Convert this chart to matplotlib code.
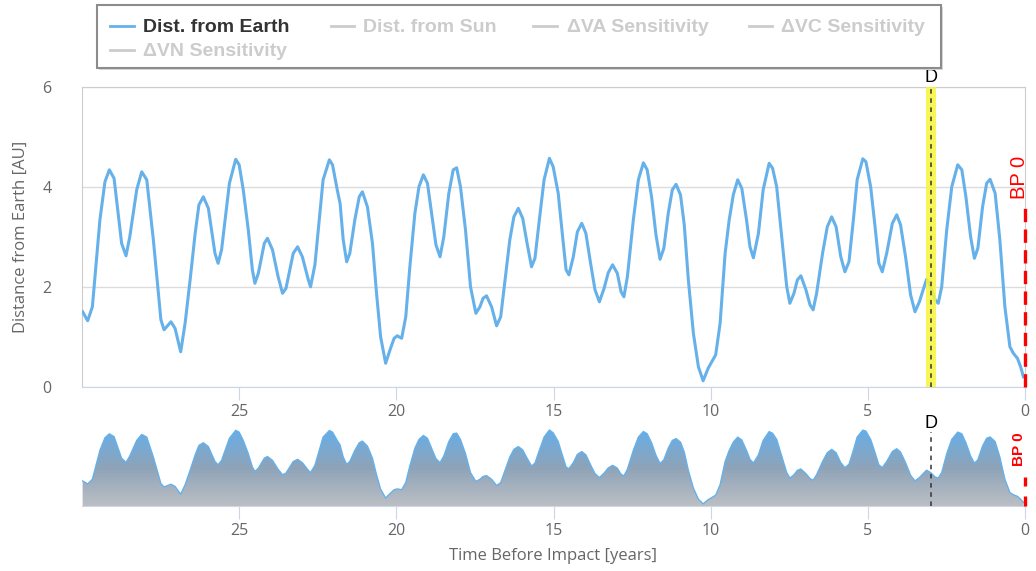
import numpy as np
import matplotlib
matplotlib.use("Agg")
import matplotlib.pyplot as plt
from matplotlib.colors import LinearSegmentedColormap
from matplotlib.lines import Line2D
from matplotlib.patches import Rectangle

# time before impact [years] and distance from Earth [AU]
years = [29.98, 29.82, 29.67, 29.43, 29.27, 29.13, 28.98, 28.74, 28.60, 28.48,
         28.26, 28.10, 27.94, 27.73, 27.49, 27.39, 27.17, 27.04, 26.86, 26.72,
         26.56, 26.40, 26.28, 26.14, 25.98, 25.77, 25.67, 25.56, 25.31, 25.11,
         25.00, 24.87, 24.71, 24.58, 24.50, 24.39, 24.20, 24.10, 23.94, 23.76,
         23.62, 23.51, 23.28, 23.14, 22.99, 22.80, 22.73, 22.59, 22.33, 22.13,
         22.03, 21.88, 21.79, 21.69, 21.58, 21.48, 21.32, 21.18, 21.08, 20.92,
         20.76, 20.63, 20.50, 20.34, 20.20, 20.07, 19.97, 19.83, 19.70, 19.57,
         19.41, 19.28, 19.14, 19.01, 18.88, 18.74, 18.61, 18.49, 18.33, 18.19,
         18.08, 17.96, 17.80, 17.64, 17.47, 17.34, 17.24, 17.13, 16.97, 16.81,
         16.68, 16.54, 16.39, 16.26, 16.12, 15.98, 15.84, 15.70, 15.59, 15.45,
         15.30, 15.13, 15.01, 14.85, 14.71, 14.60, 14.51, 14.37, 14.24, 14.10,
         13.97, 13.82, 13.68, 13.54, 13.39, 13.26, 13.12, 12.97, 12.85, 12.76,
         12.65, 12.46, 12.30, 12.14, 12.02, 11.88, 11.74, 11.61, 11.49, 11.35,
         11.22, 11.10, 10.96, 10.84, 10.71, 10.55, 10.39, 10.24, 10.08, 9.84,
         9.70, 9.54, 9.41, 9.28, 9.14, 9.01, 8.86, 8.75, 8.64, 8.48,
         8.33, 8.14, 8.03, 7.90, 7.74, 7.58, 7.48, 7.35, 7.24, 7.13,
         6.97, 6.84, 6.74, 6.63, 6.44, 6.29, 6.15, 6.01, 5.86, 5.73,
         5.60, 5.46, 5.34, 5.16, 5.06, 4.91, 4.77, 4.65, 4.54, 4.40,
         4.22, 4.08, 3.96, 3.80, 3.64, 3.50, 3.36, 3.24, 3.13, 3.00,
         2.86, 2.76, 2.65, 2.49, 2.33, 2.14, 2.01, 1.88, 1.73, 1.61,
         1.50, 1.35, 1.22, 1.11, 0.95, 0.80, 0.64, 0.48, 0.37, 0.24,
         0.14, 0.05]
dist_earth = [1.51, 1.33, 1.61, 3.35, 4.11, 4.35, 4.18, 2.88, 2.63, 3.01,
              3.95, 4.31, 4.15, 2.95, 1.35, 1.15, 1.31, 1.18, 0.71, 1.28,
              2.15, 3.08, 3.65, 3.81, 3.58, 2.68, 2.48, 2.75, 4.08, 4.56,
              4.45, 3.95, 3.15, 2.35, 2.08, 2.28, 2.88, 2.98, 2.75, 2.21,
              1.88, 1.98, 2.68, 2.81, 2.61, 2.15, 2.01, 2.45, 4.15, 4.55,
              4.45, 3.95, 3.68, 2.95, 2.51, 2.68, 3.35, 3.81, 3.91, 3.61,
              2.88, 1.88, 1.01, 0.48, 0.75, 0.98, 1.03, 0.98, 1.41, 2.41,
              3.48, 4.01, 4.25, 4.08, 3.48, 2.85, 2.61, 3.01, 3.88, 4.35,
              4.39, 4.01, 3.15, 2.01, 1.48, 1.61, 1.78, 1.83, 1.61, 1.23,
              1.41, 2.15, 2.95, 3.41, 3.58, 3.38, 2.88, 2.41, 2.58, 3.35,
              4.15, 4.58, 4.41, 3.88, 3.01, 2.35, 2.25, 2.61, 3.11, 3.28,
              3.08, 2.48, 1.95, 1.71, 1.98, 2.29, 2.45, 2.28, 1.91, 1.81,
              2.21, 3.35, 4.15, 4.49, 4.35, 3.81, 3.05, 2.56, 2.78, 3.48,
              3.95, 4.06, 3.85, 3.25, 2.15, 1.08, 0.41, 0.13, 0.38, 0.65,
              1.28, 2.68, 3.35, 3.85, 4.15, 3.98, 3.35, 2.81, 2.59, 3.08,
              3.95, 4.48, 4.38, 4.01, 3.01, 2.01, 1.68, 1.88, 2.15, 2.23,
              1.95, 1.65, 1.55, 1.88, 2.68, 3.21, 3.41, 3.21, 2.61, 2.31,
              2.51, 3.35, 4.15, 4.57, 4.51, 4.01, 3.21, 2.48, 2.31, 2.68,
              3.28, 3.45, 3.25, 2.61, 1.85, 1.51, 1.71, 1.95, 2.16, 2.01,
              1.75, 1.68, 2.01, 3.15, 4.01, 4.45, 4.35, 3.81, 3.01, 2.58,
              2.78, 3.61, 4.08, 4.16, 3.88, 2.95, 1.61, 0.81, 0.68, 0.58,
              0.41, 0.21]

x_ticks = [25, 20, 15, 10, 5, 0]
y_ticks = [0, 2, 4, 6]
d_time = 3.0
d_band = (3.16, 2.84)
bp_time = 0.0
legend_names = ["Dist. from Earth", "Dist. from Sun", "\u0394VA Sensitivity",
                "\u0394VC Sensitivity", "\u0394VN Sensitivity"]

W, H = 1036, 571
line_col = "#66b1ea"
label_col = "#666666"
tick_font = ["Open Sans", "DejaVu Sans"]
leg_font = ["Liberation Sans", "DejaVu Sans"]


def fx(px):
    return px / W


def fy(py):
    return 1 - py / H


fig = plt.figure(figsize=(W / 100, H / 100), dpi=100)

# ---- main chart ----
ax = fig.add_axes([fx(82), fy(387.3), fx(1025) - fx(82), fy(87.3) - fy(387.3)])
ax.plot(years, dist_earth, color=line_col, lw=2.2, zorder=3, solid_joinstyle="round")
ax.axvspan(d_band[0], d_band[1], color="#f7f53a", alpha=0.85, lw=0, zorder=4)
ax.axvline(d_time, color="#333333", lw=1.1, ls=(0, (3, 3)), zorder=5)
ax.text(d_time, 6.02, "D", ha="center", va="bottom", fontsize=13,
        family=leg_font, color="black")
ax.plot([bp_time, bp_time], [0, 3.6], color="#ff0000", lw=2.4, ls=(0, (4, 2.2)),
        zorder=6, clip_on=False)
ax.text(0.17, 4.2, "BP 0", rotation=90, ha="center", va="center", color="#ff0000",
        fontsize=14.5, family=leg_font)
ax.set_xlim(30, 0)
ax.set_ylim(0, 6)
ax.set_yticks(y_ticks)
ax.set_xticks(x_ticks)
ax.grid(axis="y", color="#dcdcdc", lw=1)
ax.set_axisbelow(True)
for s in ["top", "left", "right"]:
    ax.spines[s].set_color("#cccccc")
ax.spines["bottom"].set_color("#ccd6eb")
ax.tick_params(axis="y", length=0, pad=22, labelsize=11.5, labelcolor=label_col)
ax.tick_params(axis="x", length=9, color="#ccd6eb", pad=3, labelsize=11.5,
               labelcolor=label_col)
for lab in ax.get_xticklabels() + ax.get_yticklabels():
    lab.set_family(tick_font)
ax.set_ylabel("Distance from Earth [AU]", fontsize=12, color=label_col,
              family=tick_font, labelpad=10)

# ---- navigator ----
nav = fig.add_axes([fx(82), fy(506), fx(1025) - fx(82), fy(425) - fy(506)])
ymax = 4.88
poly = nav.fill_between(years, dist_earth, 0, color="none", lw=0)
cmap = LinearSegmentedColormap.from_list("nav", ["#bcbfc4", "#8ea3b8", "#66aee8"])
grad = np.linspace(0, 1, 256).reshape(-1, 1)
img = nav.imshow(grad, cmap=cmap, origin="lower", aspect="auto",
                 extent=[30, 0, 0, 4.6], zorder=1)
img.set_clip_path(poly.get_paths()[0], transform=nav.transData)
nav.plot(years, dist_earth, color=line_col, lw=1.0, zorder=2)
nav.plot([d_time, d_time], [0, 4.46], color="#333333", lw=1.1, ls=(0, (3, 3)), zorder=3)
nav.text(d_time, 5.0, "D", ha="center", va="center", fontsize=13,
         family=leg_font, color="black", clip_on=False)
nav.plot([bp_time, bp_time], [0, 1.75], color="#ff0000", lw=2.4, ls=(0, (3, 3)),
         zorder=4, clip_on=False)
nav.text(0.2, 3.43, "BP 0", rotation=90, ha="center", va="center", color="#ff0000",
         fontsize=11, fontweight="bold", family=leg_font, clip_on=False)
nav.set_xlim(30, 0)
nav.set_ylim(0, ymax)
nav.set_yticks([])
nav.set_xticks(x_ticks)
for s in ["top", "left", "right"]:
    nav.spines[s].set_visible(False)
nav.spines["bottom"].set_color("#ccd6eb")
nav.tick_params(axis="x", length=9, color="#ccd6eb", pad=3, labelsize=11.5,
                labelcolor=label_col)
for lab in nav.get_xticklabels():
    lab.set_family(tick_font)
nav.patch.set_alpha(0)

fig.text(fx(553), fy(556), "Time Before Impact [years]", ha="center", va="center",
         fontsize=12, color=label_col, family=tick_font)

# ---- legend ----
fig.patches.append(Rectangle((fx(99), fy(70)), fx(941) - fx(97), fy(5) - fy(68),
                             transform=fig.transFigure, facecolor="#d8d8d8",
                             edgecolor="none", zorder=0))
fig.patches.append(Rectangle((fx(97), fy(68)), fx(941) - fx(97), fy(5) - fy(68),
                             transform=fig.transFigure, facecolor="white",
                             edgecolor="#8c8c8c", lw=1.5, zorder=1))
leg_pos = [(110, 134, 143, 26), (331, 354, 363, 26), (533, 557, 567, 26),
           (749, 772, 781, 26), (110, 134, 143, 50)]
for i, (name, (x0, x1, xt, yy)) in enumerate(zip(legend_names, leg_pos)):
    col = line_col if i == 0 else "#cccccc"
    tcol = "#333333" if i == 0 else "#cccccc"
    fig.lines.append(Line2D([fx(x0), fx(x1)], [fy(yy), fy(yy)], color=col, lw=2,
                            transform=fig.transFigure))
    fig.text(fx(xt), fy(yy + 1), name, ha="left", va="center", fontsize=14,
             fontweight="bold", color=tcol, family=leg_font)

fig.savefig("out.png", dpi=100)
